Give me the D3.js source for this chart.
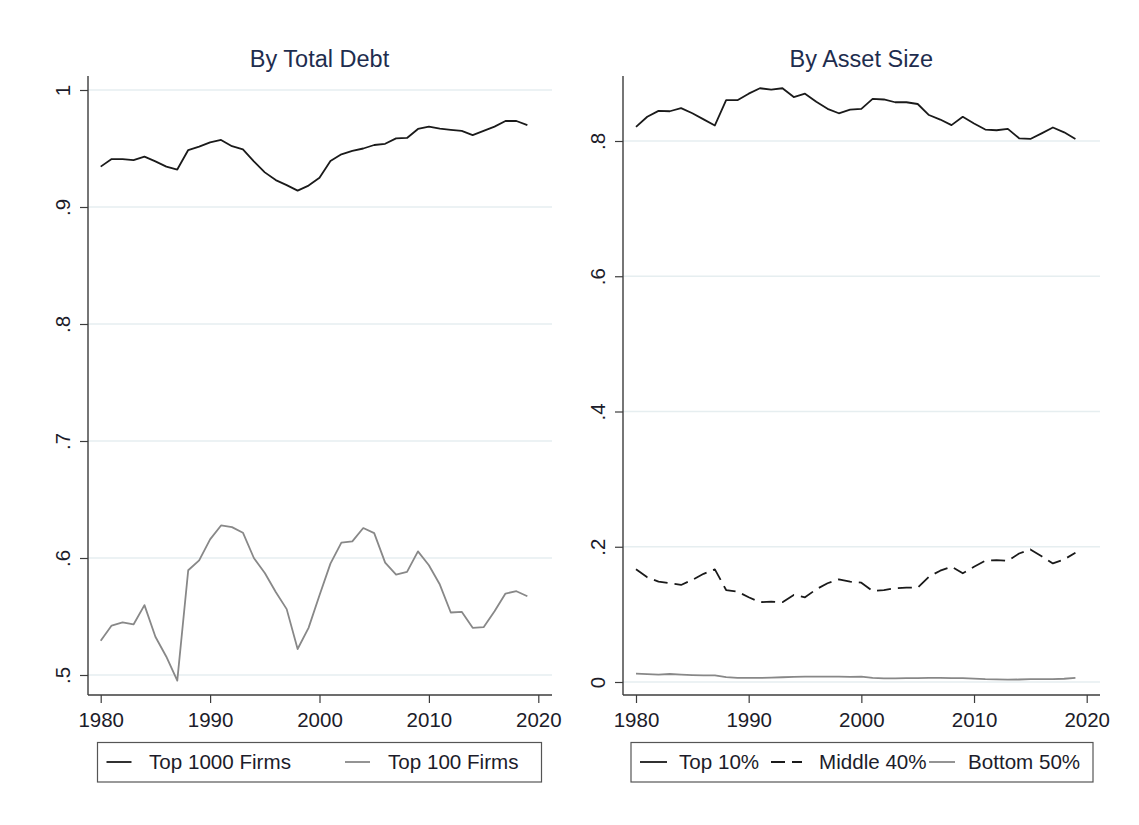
<!DOCTYPE html>
<html>
<head>
<meta charset="utf-8">
<script src="https://cdn.jsdelivr.net/npm/d3@7"></script>
<style>
  html, body { margin: 0; padding: 0; background: #fff; }
  svg { display: block; }
  text { font-family: "Liberation Sans", Arial, sans-serif; }
</style>
</head>
<body>
<svg id="chart" width="1139" height="825"></svg>
<script>
// Years 1980-2019
const years = d3.range(1980, 2020);

// Left panel: share of debt held by largest firms
const top1000Firms = [
  0.9345, 0.941, 0.941, 0.940, 0.943, 0.939, 0.9345, 0.932, 0.9487, 0.9516,
  0.9553, 0.9573, 0.952, 0.9493, 0.939, 0.9296, 0.923, 0.9187, 0.914, 0.9183,
  0.925, 0.9393, 0.945, 0.9479, 0.950, 0.953, 0.954, 0.9587, 0.959, 0.9667,
  0.9687, 0.967, 0.966, 0.965, 0.9615, 0.965, 0.9687, 0.9735, 0.9735, 0.970
];
const top100Firms = [
  0.5293, 0.5423, 0.5449, 0.5432, 0.5597, 0.5327, 0.5156, 0.4952, 0.5895, 0.598,
  0.6159, 0.6278, 0.6264, 0.6216, 0.600, 0.5872, 0.571, 0.5563, 0.5222, 0.5403,
  0.5682, 0.5952, 0.6131, 0.6142, 0.6256, 0.6213, 0.596, 0.5858, 0.5881, 0.6057,
  0.5938, 0.5773, 0.5534, 0.554, 0.5403, 0.5409, 0.5545, 0.5696, 0.5716, 0.5673
];

// Right panel: share of debt by firm asset-size group
const top10 = [
  0.821, 0.8358, 0.8445, 0.844, 0.8486, 0.841, 0.832, 0.823, 0.8604, 0.8604,
  0.870, 0.878, 0.876, 0.878, 0.865, 0.870, 0.858, 0.8476, 0.841, 0.8465,
  0.8476, 0.8624, 0.8614, 0.8573, 0.8573, 0.8547, 0.8384, 0.8317, 0.8235, 0.8358,
  0.826, 0.8169, 0.8159, 0.818, 0.804, 0.803, 0.8113, 0.820, 0.8128, 0.803
];
const middle40 = [
  0.1666, 0.1548, 0.1484, 0.146, 0.1435, 0.151, 0.160, 0.1666, 0.136, 0.1337,
  0.1253, 0.118, 0.1189, 0.118, 0.1287, 0.1253, 0.1371, 0.146, 0.1518, 0.1484,
  0.1469, 0.1346, 0.136, 0.1386, 0.1396, 0.1396, 0.1558, 0.1646, 0.1705, 0.1607,
  0.1705, 0.1794, 0.1803, 0.1794, 0.190, 0.196, 0.186, 0.1754, 0.1813, 0.191
];
const bottom50 = [
  0.0123, 0.0115, 0.011, 0.0118, 0.011, 0.0103, 0.0098, 0.0098, 0.0072, 0.0062,
  0.006, 0.006, 0.0065, 0.007, 0.0075, 0.008, 0.008, 0.008, 0.0078, 0.0075,
  0.0078, 0.006, 0.0055, 0.0055, 0.0057, 0.0058, 0.006, 0.006, 0.0058, 0.0058,
  0.005, 0.0042, 0.004, 0.0035, 0.0037, 0.0042, 0.0042, 0.0042, 0.0048, 0.0062
];

// Tick values and labels
const xTicks = [1980, 1990, 2000, 2010, 2020];
const leftYTicks = [0.5, 0.6, 0.7, 0.8, 0.9, 1.0];
const leftYLabels = [".5", ".6", ".7", ".8", ".9", "1"];
const rightYTicks = [0, 0.2, 0.4, 0.6, 0.8];
const rightYLabels = ["0", ".2", ".4", ".6", ".8"];

const titles = ["By Total Debt", "By Asset Size"];
const leftLegend = ["Top 1000 Firms", "Top 100 Firms"];
const rightLegend = ["Top 10%", "Middle 40%", "Bottom 50%"];

// ---- styling ----
const TEXT = "#1c1c2a";
const TITLE = "#1e2d4e";
const AXIS = "#3c3c3c";
const GRID = "#e6eef0";
const BLACK = "#1a1a1a";
const GRAY = "#888888";
const DASH = "14,7";

const svg = d3.select("#chart");

function panel(cfg) {
  const g = svg.append("g");
  const x = d3.scaleLinear().domain([1980, 2020]).range(cfg.xRange);
  const y = d3.scaleLinear().domain(cfg.yDomain).range(cfg.yRange);

  // grid
  g.append("g").selectAll("line").data(cfg.yTicks).join("line")
    .attr("x1", cfg.axisX).attr("x2", cfg.rightX)
    .attr("y1", d => y(d)).attr("y2", d => y(d))
    .attr("stroke", GRID).attr("stroke-width", 1.3);

  // y axis
  const yAxis = g.append("g").attr("transform", `translate(${cfg.axisX},0)`)
    .call(d3.axisLeft(y).tickValues(cfg.yTicks)
      .tickFormat((d, i) => cfg.yLabels[i]).tickSize(8));
  yAxis.select(".domain").remove();
  yAxis.selectAll(".tick line").attr("stroke", AXIS).attr("stroke-width", 1.2);
  yAxis.selectAll(".tick text")
    .attr("x", 0).attr("y", -18).attr("dy", 0)
    .attr("transform", "rotate(-90)")
    .attr("text-anchor", "middle")
    .attr("fill", TEXT).style("font-size", "20.5px");

  // x axis
  const xAxis = g.append("g").attr("transform", `translate(0,${cfg.axisY})`)
    .call(d3.axisBottom(x).tickValues(xTicks).tickFormat(d3.format("d"))
      .tickSize(8).tickPadding(9));
  xAxis.select(".domain").remove();
  xAxis.selectAll(".tick line").attr("stroke", AXIS).attr("stroke-width", 1.2);
  xAxis.selectAll(".tick text").attr("fill", TEXT).style("font-size", "20.5px");

  // axis lines
  g.append("line").attr("x1", cfg.axisX).attr("x2", cfg.axisX)
    .attr("y1", cfg.topY).attr("y2", cfg.axisY)
    .attr("stroke", AXIS).attr("stroke-width", 1.4);
  g.append("line").attr("x1", cfg.axisX).attr("x2", cfg.rightX)
    .attr("y1", cfg.axisY).attr("y2", cfg.axisY)
    .attr("stroke", AXIS).attr("stroke-width", 1.4);

  // series
  const line = d3.line().x((d, i) => x(years[i])).y(d => y(d));
  cfg.series.forEach(s => {
    g.append("path").datum(s.values)
      .attr("d", line)
      .attr("fill", "none")
      .attr("stroke", s.color)
      .attr("stroke-width", s.width)
      .attr("stroke-dasharray", s.dash || null)
      .attr("stroke-linejoin", "round");
  });

  // title
  g.append("text").attr("x", (cfg.xRange[0] + cfg.xRange[1]) / 2).attr("y", 67)
    .attr("text-anchor", "middle").attr("fill", TITLE)
    .style("font-size", "23.5px").text(cfg.title);

  // legend
  const lg = g.append("g");
  lg.append("rect").attr("x", cfg.legend.x).attr("y", 742.5)
    .attr("width", cfg.legend.w).attr("height", 39.5)
    .attr("fill", "#fff").attr("stroke", "#555").attr("stroke-width", 1.2);
  cfg.legend.items.forEach((it, i) => {
    lg.append("line").attr("x1", it.x1).attr("x2", it.x1 + it.len)
      .attr("y1", 762).attr("y2", 762)
      .attr("stroke", cfg.series[i].color)
      .attr("stroke-width", cfg.series[i].width)
      .attr("stroke-dasharray", cfg.series[i].dash || null);
    lg.append("text").attr("x", it.tx).attr("y", 768.5)
      .attr("fill", TEXT).style("font-size", "20.6px").text(it.label);
  });
}

panel({
  title: titles[0],
  xRange: [100.7, 538.3],
  yDomain: [0.5, 1.0], yRange: [675, 90],
  yTicks: leftYTicks, yLabels: leftYLabels,
  axisX: 88, axisY: 695, topY: 76, rightX: 552,
  series: [
    { values: top1000Firms, color: BLACK, width: 1.8 },
    { values: top100Firms, color: GRAY, width: 1.8 }
  ],
  legend: {
    x: 97.5, w: 444,
    items: [
      { x1: 106.5, len: 25, tx: 149, label: leftLegend[0] },
      { x1: 345, len: 25, tx: 388, label: leftLegend[1] }
    ]
  }
});

panel({
  title: titles[1],
  xRange: [636, 1086.7],
  yDomain: [0, 0.8], yRange: [682, 141],
  yTicks: rightYTicks, yLabels: rightYLabels,
  axisX: 623, axisY: 695, topY: 76, rightX: 1100,
  series: [
    { values: top10, color: BLACK, width: 1.8 },
    { values: middle40, color: BLACK, width: 1.8, dash: DASH },
    { values: bottom50, color: GRAY, width: 1.8 }
  ],
  legend: {
    x: 631, w: 462,
    items: [
      { x1: 640, len: 27, tx: 679, label: rightLegend[0] },
      { x1: 771, len: 31, tx: 819, label: rightLegend[1] },
      { x1: 929, len: 26, tx: 968, label: rightLegend[2] }
    ]
  }
});
</script>
</body>
</html>
